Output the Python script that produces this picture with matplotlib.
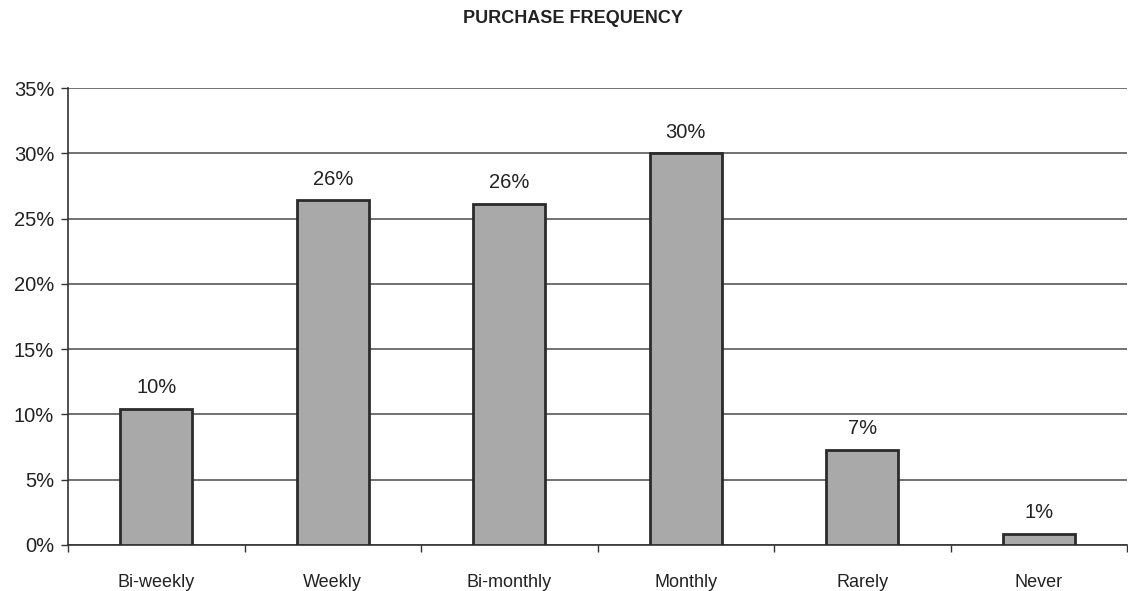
import matplotlib.pyplot as plt
import numpy as np

# Data
categories = ['Bi-weekly', 'Weekly', 'Bi-monthly', 'Monthly', 'Rarely', 'Never']
shares = [10.4, 26.4, 26.1, 30.0, 7.3, 0.85]
labels = ['10%', '26%', '26%', '30%', '7%', '1%']
y_ticks = [0, 5, 10, 15, 20, 25, 30, 35]

plt.rcParams['font.family'] = ['Liberation Sans', 'DejaVu Sans']

fig = plt.figure(figsize=(11.28, 5.91), dpi=100)
ax = fig.add_axes([68 / 1128, 46 / 591, 1059 / 1128, 457 / 591])

x = np.arange(len(categories))
ax.bar(x, shares, width=0.41, color='#a9a9a9', edgecolor='#2b2b2b',
       linewidth=2, zorder=3)

for xi, v, lab in zip(x, shares, labels):
    ax.text(xi, v + 0.9, lab, ha='center', va='bottom', fontsize=14.5,
            color='#222222', zorder=4)

ax.set_xlim(-0.5, len(categories) - 0.5)
ax.set_ylim(0, 35)
ax.set_yticks(y_ticks)
ax.set_yticklabels([f'{t}%' for t in y_ticks], fontsize=14.5, color='#222222')
ax.yaxis.grid(True, color='#4a4a4a', linewidth=1.1, zorder=0)

ax.set_xticks(x)
ax.set_xticklabels(categories, fontsize=13, color='#222222')
ax.tick_params(axis='x', length=0, pad=21)
ax.set_xticks(np.arange(-0.5, len(categories)), minor=True)
ax.tick_params(axis='x', which='minor', length=5, width=1, color='#333333')
ax.tick_params(axis='y', length=5, width=1, color='#333333', pad=5)

for side in ['top', 'right']:
    ax.spines[side].set_visible(False)
for side in ['left', 'bottom']:
    ax.spines[side].set_color('#333333')
    ax.spines[side].set_linewidth(1.2)

fig.text(0.508, 0.969, 'PURCHASE FREQUENCY', ha='center', va='center',
         fontsize=13, fontweight='bold', color='#222222')

fig.savefig('out.png', dpi=100)
